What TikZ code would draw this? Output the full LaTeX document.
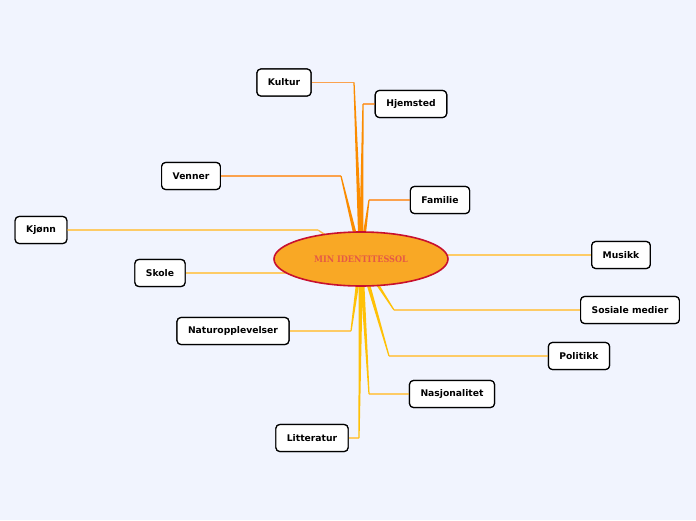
\documentclass[tikz,border=0pt]{standalone}
\usepackage{fontspec}
\setmainfont{DejaVu Sans}
\newfontfamily\titlefont{DejaVu Serif Condensed}
\usetikzlibrary{calc,shapes.geometric}
\definecolor{bg}{HTML}{F1F4FE}
\definecolor{stemO}{HTML}{FB8C00}
\definecolor{stemY}{HTML}{FFC107}
\definecolor{stemK}{HTML}{FDB84A}
\definecolor{horO}{HTML}{FBA24E}
\definecolor{horY}{HTML}{FDCB66}
\definecolor{sunfill}{HTML}{F9A825}
\definecolor{sunline}{HTML}{C8102E}
\definecolor{suntext}{HTML}{E55A46}
\newcommand\taperline[3]{%
  \fill[#1] ($(#2)!2.2pt!90:(#3)$) -- ($(#3)!0.6pt!-90:(#2)$) -- ($(#3)!0.6pt!90:(#2)$) -- ($(#2)!2.2pt!-90:(#3)$) -- cycle;}
\tikzset{
  topic/.style={draw=black, line width=1.2pt, fill=white, rounded corners=4pt,
    minimum height=27pt, inner xsep=11pt, font=\bfseries\fontsize{9.2}{10}\selectfont},
  horline/.style={line width=1.1pt},
}
\begin{document}
\begin{tikzpicture}[x=1pt,y=-1pt]
\fill[bg] (0,0) rectangle (696,520);
\useasboundingbox (0,0) rectangle (696,520);
\coordinate (c) at (361,259);
% bends
\coordinate (bKultur) at (354,82.5);
\coordinate (bHjem) at (363,104);
\coordinate (bFam) at (369,200);
\coordinate (bVen) at (341,176);
\coordinate (bKjonn) at (318,230);
\coordinate (bSkole) at (300,273);
\coordinate (bNatur) at (351,331);
\coordinate (bMusikk) at (420,255);
\coordinate (bSos) at (394,310);
\coordinate (bPol) at (389,356);
\coordinate (bNasj) at (369,394);
\coordinate (bLitt) at (359,438);
% node positions
\node[topic] (kultur) at (284,82.5) {Kultur};
\node[topic] (hjem) at (411,104) {Hjemsted};
\node[topic] (fam) at (440,200) {Familie};
\node[topic] (ven) at (191,176) {Venner};
\node[topic] (kjonn) at (41,230) {Kjønn};
\node[topic] (skole) at (160,273) {Skole};
\node[topic] (natur) at (233,331) {Naturopplevelser};
\node[topic] (musikk) at (621,255) {Musikk};
\node[topic] (sos) at (630,310) {Sosiale medier};
\node[topic] (pol) at (579,356) {Politikk};
\node[topic] (nasj) at (452,394) {Nasjonalitet};
\node[topic] (litt) at (312,438) {Litteratur};
% horizontal parts
\draw[horline,horO] (bKultur) -- (kultur.east);
\draw[horline,horO] (bHjem) -- (hjem.west);
\draw[horline,horO] (bFam) -- (fam.west);
\draw[horline,horO] (bVen) -- (ven.east);
\draw[horline,horY] (bKjonn) -- (kjonn.east);
\draw[horline,horY] (bSkole) -- (skole.east);
\draw[horline,horY] (bNatur) -- (natur.east);
\draw[horline,horY] (bMusikk) -- (musikk.west);
\draw[horline,horY] (bSos) -- (sos.west);
\draw[horline,horY] (bPol) -- (pol.west);
\draw[horline,horY] (bNasj) -- (nasj.west);
\draw[horline,horY] (bLitt) -- (litt.east);
% stems
\taperline{stemO}{c}{bKultur}
\taperline{stemO}{c}{bHjem}
\taperline{stemO}{c}{bFam}
\taperline{stemO}{c}{bVen}
\taperline{stemK}{c}{bKjonn}
\taperline{stemY}{c}{bSkole}
\taperline{stemY}{c}{bNatur}
\taperline{stemY}{c}{bMusikk}
\taperline{stemY}{c}{bSos}
\taperline{stemY}{c}{bPol}
\taperline{stemY}{c}{bNasj}
\taperline{stemY}{c}{bLitt}
% redraw nodes on top of connectors
\node[topic] at (kultur) {Kultur};
\node[topic] at (hjem) {Hjemsted};
\node[topic] at (fam) {Familie};
\node[topic] at (ven) {Venner};
\node[topic] at (kjonn) {Kjønn};
\node[topic] at (skole) {Skole};
\node[topic] at (natur) {Naturopplevelser};
\node[topic] at (musikk) {Musikk};
\node[topic] at (sos) {Sosiale medier};
\node[topic] at (pol) {Politikk};
\node[topic] at (nasj) {Nasjonalitet};
\node[topic] at (litt) {Litteratur};
% central
\node[ellipse, draw=sunline, line width=1.6pt, fill=sunfill, minimum width=174pt, minimum height=54pt,
  text=suntext, font=\titlefont\bfseries\fontsize{9}{10}\selectfont] (sun) at (c) {MIN IDENTITESSOL};
\end{tikzpicture}
\end{document}
